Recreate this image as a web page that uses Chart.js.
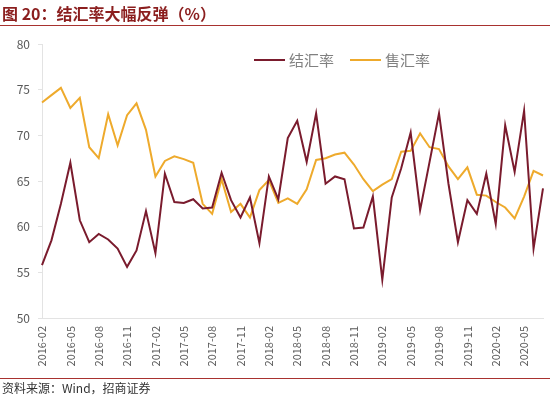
<!DOCTYPE html>
<html>
<head>
<meta charset="utf-8">
<script src="https://cdn.jsdelivr.net/npm/chart.js@4/dist/chart.umd.min.js"></script>
<style>
  html, body { margin: 0; padding: 0; background: #fff; }
  #wrap { position: relative; width: 550px; height: 397px; }
</style>
</head>
<body>
<div id="wrap"><canvas id="c" width="550" height="397"></canvas></div>
<script>
// monthly, 2016-02 .. 2020-07
const months = [
  '2016-02','2016-03','2016-04','2016-05','2016-06','2016-07','2016-08','2016-09','2016-10','2016-11','2016-12',
  '2017-01','2017-02','2017-03','2017-04','2017-05','2017-06','2017-07','2017-08','2017-09','2017-10','2017-11','2017-12',
  '2018-01','2018-02','2018-03','2018-04','2018-05','2018-06','2018-07','2018-08','2018-09','2018-10','2018-11','2018-12',
  '2019-01','2019-02','2019-03','2019-04','2019-05','2019-06','2019-07','2019-08','2019-09','2019-10','2019-11','2019-12',
  '2020-01','2020-02','2020-03','2020-04','2020-05','2020-06','2020-07'
];

// 结汇率
const settleRate = [
  55.8, 58.5, 62.5, 67.0, 60.7, 58.3, 59.2, 58.6, 57.6, 55.6, 57.4,
  61.7, 57.1, 65.8, 62.7, 62.6, 63.0, 62.0, 62.1, 65.9, 62.9, 61.0, 63.2,
  58.2, 65.5, 63.0, 69.7, 71.6, 67.1, 72.4, 64.7, 65.5, 65.2, 59.8, 59.9,
  63.3, 54.2, 63.2, 66.4, 70.3, 61.8, 67.1, 72.4, 64.7, 58.3, 62.9, 61.4,
  65.8, 60.3, 71.1, 66.0, 72.7, 57.6, 64.2
];

// 售汇率
const saleRate = [
  73.6, 74.4, 75.2, 73.0, 74.1, 68.7, 67.5, 72.3, 68.9, 72.2, 73.5,
  70.6, 65.5, 67.2, 67.7, 67.4, 67.0, 62.5, 61.4, 65.2, 61.6, 62.5, 61.0,
  64.0, 65.1, 62.6, 63.1, 62.5, 64.1, 67.3, 67.5, 67.9, 68.1, 66.8, 65.2,
  63.9, 64.6, 65.2, 68.2, 68.3, 70.2, 68.7, 68.5, 66.6, 65.2, 66.5, 63.5,
  63.4, 62.7, 62.1, 60.9, 63.3, 66.1, 65.6
];

const seriesNames = ['结汇率', '售汇率'];
const seriesColors = ['#7a1b2d', '#eeaa2c'];
const yTicks = [50, 55, 60, 65, 70, 75, 80];

const titleText = '图 20：结汇率大幅反弹（%）';
const sourceText = '资料来源：Wind，招商证券';
const FONT = '"Noto Sans CJK SC", "Noto Sans", sans-serif';

// title, red rules, source line and the in-plot legend
const decorPlugin = {
  id: 'decor',
  afterDraw(chart) {
    const ctx = chart.ctx;
    ctx.save();
    ctx.fillStyle = '#8b1e1e';
    ctx.font = 'bold 16px ' + FONT;
    ctx.textBaseline = 'alphabetic';
    ctx.textAlign = 'left';
    ctx.fillText(titleText, 2, 20);

    ctx.strokeStyle = '#a8322f';
    ctx.lineWidth = 1;
    ctx.beginPath();
    ctx.moveTo(0, 25.5); ctx.lineTo(550, 25.5);
    ctx.moveTo(0, 378.5); ctx.lineTo(550, 378.5);
    ctx.stroke();

    ctx.fillStyle = '#333';
    ctx.font = '12px ' + FONT;
    ctx.fillText(sourceText, 2, 393);

    // legend
    const items = chart.data.datasets;
    let x = 254;
    const y = 60;
    ctx.font = '15px ' + FONT;
    ctx.textBaseline = 'middle';
    items.forEach(ds => {
      ctx.strokeStyle = ds.borderColor;
      ctx.lineWidth = 2;
      ctx.beginPath();
      ctx.moveTo(x, y); ctx.lineTo(x + 31, y);
      ctx.stroke();
      ctx.fillStyle = '#808080';
      ctx.fillText(ds.label, x + 35, y);
      x += 35 + ctx.measureText(ds.label).width + 16;
    });
    ctx.restore();
  }
};

new Chart(document.getElementById('c'), {
  type: 'line',
  data: {
    labels: months,
    datasets: [
      { label: seriesNames[0], data: settleRate, borderColor: seriesColors[0], backgroundColor: seriesColors[0], borderWidth: 2, pointRadius: 0, tension: 0 },
      { label: seriesNames[1], data: saleRate, borderColor: seriesColors[1], backgroundColor: seriesColors[1], borderWidth: 2, pointRadius: 0, tension: 0 }
    ]
  },
  options: {
    responsive: false,
    animation: false,
    layout: { padding: { top: 44, right: 7, bottom: 21, left: 0 } },
    plugins: {
      legend: { display: false },
      tooltip: { enabled: false }
    },
    scales: {
      x: {
        offset: false,
        grid: { display: false, drawTicks: false },
        border: { color: '#e3e3e3' },
        afterFit: s => { s.height = 58; s.paddingLeft = 0; s.paddingRight = 0; },
        ticks: {
          autoSkip: false,
          minRotation: 90,
          maxRotation: 90,
          padding: 8,
          color: '#595959',
          font: { size: 11, family: FONT },
          callback: function(v, i) { return i % 3 === 0 ? months[i] : ''; }
        }
      },
      y: {
        min: yTicks[0],
        max: yTicks[yTicks.length - 1],
        afterFit: s => { s.width = 42; s.paddingTop = 0; s.paddingBottom = 0; },
        afterBuildTicks: s => { s.ticks = yTicks.map(v => ({ value: v })); },
        grid: { drawOnChartArea: false, drawTicks: true, tickLength: 4, color: '#e3e3e3' },
        border: { color: '#e3e3e3' },
        ticks: {
          padding: 8,
          color: '#595959',
          font: { size: 12, family: FONT }
        }
      }
    }
  },
  plugins: [decorPlugin]
});
</script>
</body>
</html>
